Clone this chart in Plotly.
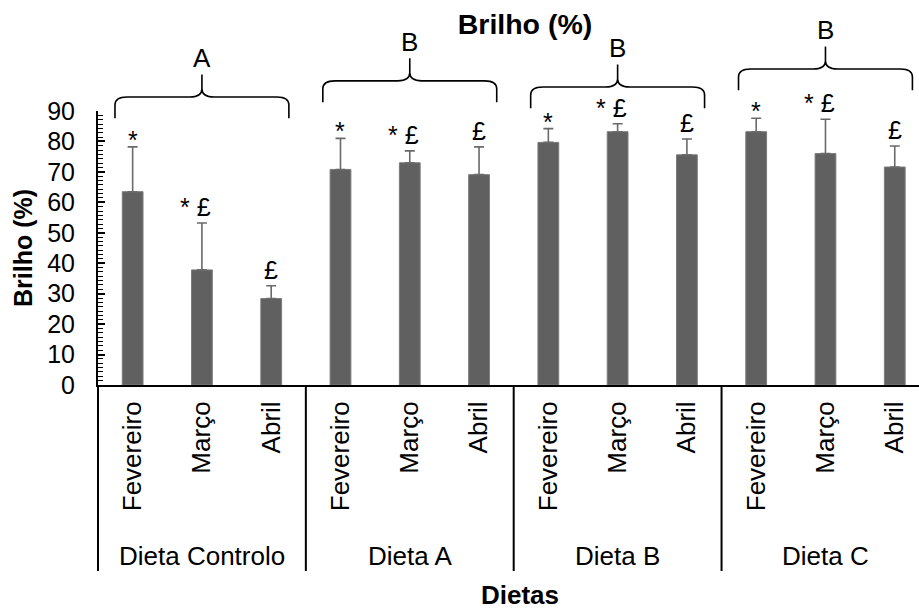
import plotly.graph_objects as go

# ---------------- data ----------------
groups = ["Dieta Controlo", "Dieta A", "Dieta B", "Dieta C"]
months = ["Fevereiro", "Março", "Abril"]
values = [63.5, 37.8, 28.4, 70.8, 73.0, 69.1, 79.7, 83.2, 75.6, 83.2, 76.0, 71.6]
errors = [14.7, 15.4, 4.2, 10.2, 3.9, 9.1, 4.5, 2.6, 5.2, 4.4, 11.3, 6.9]
marks = ["*", "* £", "£", "*", "* £", "£", "*", "* £", "£", "*", "* £", "£"]
group_letters = ["A", "B", "B", "B"]
brace_levels = [94.6, 99.9, 97.9, 103.8]
y_tick_vals = [0, 10, 20, 30, 40, 50, 60, 70, 80, 90]

# ---------------- layout constants ----------------
FW, FH = 919, 609
ML, MR, MT, MB = 98, 0, 111, 224
PW, PH = FW - ML - MR, FH - MT - MB
X0, X1 = -0.5, 11.35
Y0, Y1 = 0, 90
FONT = "Arial, Liberation Sans, sans-serif"

n = len(values)
xs = list(range(n))
tick_text = [months[i % 3] for i in range(n)]


def xp(xd):
    return (xd - X0) / (X1 - X0)


def yp(yd):
    return (yd - Y0) / (Y1 - Y0)


fig = go.Figure()
fig.add_trace(go.Bar(
    x=xs, y=values, width=0.30,
    marker=dict(color="#606060", line=dict(color="#7c7c7c", width=1)),
    error_y=dict(type="data", array=errors, arrayminus=[0] * n, symmetric=False,
                 color="#6a6a6a", thickness=1.6, width=5),
    showlegend=False,
))

annotations = []
# significance marks above error bars
for i, (v, e, m) in enumerate(zip(values, errors, marks)):
    xshift = -6 if m == "* £" else 0
    yshift = -9 if m == "*" else 0
    annotations.append(dict(
        x=i, y=v + e, xref="x", yref="y", text=m, showarrow=False,
        xanchor="center", yanchor="bottom", xshift=xshift, yshift=yshift,
        font=dict(family=FONT, size=25, color="black")))

shapes = []
cx = 12 / PW
cy = 8 / PH
for g, (lvl, letter) in enumerate(zip(brace_levels, group_letters)):
    xc = 3 * g + 1
    hw = 1.255
    xl, xr, xm = xp(xc - hw), xp(xc + hw), xp(xc)
    ye, yh, yt = yp(lvl - 7.0), yp(lvl), yp(lvl + 7.4)
    path = (f"M {xl},{ye} L {xl},{yh - cy} Q {xl},{yh} {xl + cx},{yh} "
            f"L {xm - cx},{yh} Q {xm},{yh} {xm},{yh + cy} L {xm},{yt} "
            f"L {xm},{yh + cy} Q {xm},{yh} {xm + cx},{yh} "
            f"L {xr - cx},{yh} Q {xr},{yh} {xr},{yh - cy} L {xr},{ye}")
    shapes.append(dict(type="path", xref="paper", yref="paper", path=path,
                       line=dict(color="black", width=1.6)))
    annotations.append(dict(
        x=xm, y=yt, xref="paper", yref="paper", text=letter, showarrow=False,
        xanchor="center", yanchor="bottom", yshift=-1,
        font=dict(family=FONT, size=26, color="black")))
    # group label under the month labels
    annotations.append(dict(
        x=xc, y=-(556 - (MT + PH)) / PH, xref="x", yref="paper", text=groups[g],
        showarrow=False, xanchor="center", yanchor="middle",
        font=dict(family=FONT, size=26, color="black")))

# dividers between groups
div_bottom = -(571 - (MT + PH)) / PH
for g in range(len(groups)):
    xd = xp(3 * g - 0.5)
    shapes.append(dict(type="line", xref="paper", yref="paper",
                       x0=xd, x1=xd, y0=0, y1=div_bottom,
                       line=dict(color="black", width=2)))

# axis titles
annotations.append(dict(
    x=(520 - ML) / PW, y=-(595 - (MT + PH)) / PH, xref="paper", yref="paper",
    text="<b>Dietas</b>", showarrow=False, xanchor="center", yanchor="middle",
    font=dict(family=FONT, size=26, color="black")))
annotations.append(dict(
    x=(23 - ML) / PW, y=0.5, xref="paper", yref="paper", textangle=-90,
    text="<b>Brilho (%)</b>", showarrow=False, xanchor="center", yanchor="middle",
    font=dict(family=FONT, size=25, color="black")))

fig.update_layout(
    template="none",
    width=FW, height=FH,
    margin=dict(l=ML, r=MR, t=MT, b=MB, pad=0, autoexpand=False),
    paper_bgcolor="white", plot_bgcolor="white",
    title=dict(text="<b>Brilho (%)</b>", x=525 / FW, xref="container", xanchor="center",
               y=1 - 24 / FH, yref="container", yanchor="middle",
               font=dict(family=FONT, size=28.5, color="black")),
    font=dict(family=FONT, color="black"),
    shapes=shapes,
    annotations=annotations,
    showlegend=False,
)
fig.update_xaxes(
    automargin=False,
    range=[X0, X1], tickmode="array", tickvals=xs, ticktext=tick_text,
    tickangle=-90, ticks="", showline=True, linecolor="black", linewidth=2,
    showgrid=False, zeroline=False, ticklabelstandoff=4,
    tickfont=dict(family=FONT, size=26, color="black"),
)
fig.update_yaxes(
    automargin=False,
    range=[Y0, Y1], tickmode="array", tickvals=y_tick_vals,
    ticks="inside", ticklen=7, tickwidth=1.6, tickcolor="black",
    minor=dict(dtick=10 / 7, ticks="inside", ticklen=5, tickwidth=1.4, tickcolor="black", showgrid=False),
    showline=True, linecolor="black", linewidth=2, showgrid=False, zeroline=False,
    ticklabelstandoff=16,
    tickfont=dict(family=FONT, size=25, color="black"),
)

fig.write_html("out.html", config={"displayModeBar": False},
               post_script="document.body.style.margin='0';")
